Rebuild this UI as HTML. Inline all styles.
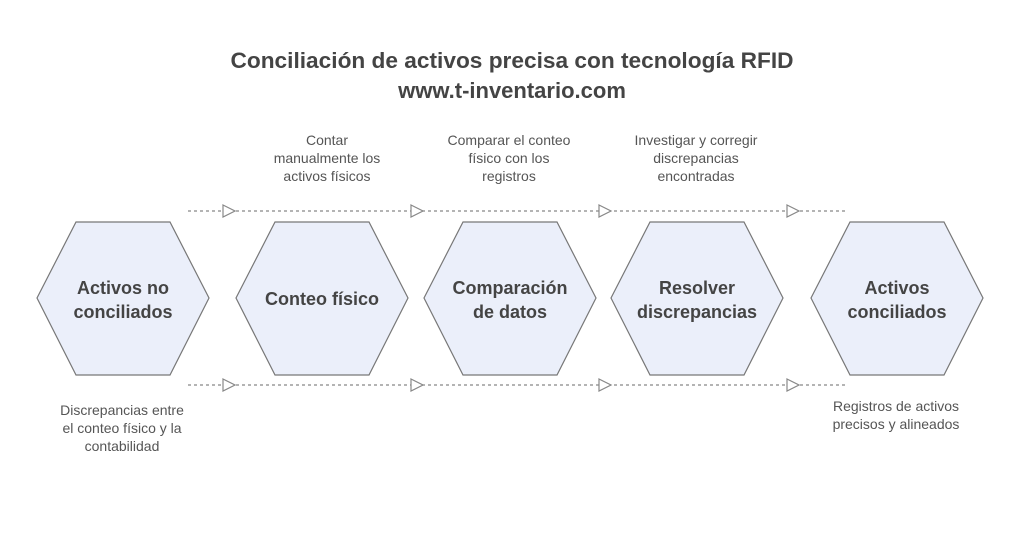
<!DOCTYPE html>
<html><head><meta charset="utf-8"><style>
body{margin:0;background:#fff;width:1024px;height:539px;overflow:hidden;font-family:"Liberation Sans",Arial,sans-serif}
</style></head><body>
<svg width="1024" height="539" viewBox="0 0 1024 539" xmlns="http://www.w3.org/2000/svg" font-family="Liberation Sans, Arial, sans-serif">
<text x="512" y="68" text-anchor="middle" font-size="22" font-weight="bold" fill="#444" textLength="563" lengthAdjust="spacingAndGlyphs">Conciliación de activos precisa con tecnología RFID</text>
<text x="512" y="98" text-anchor="middle" font-size="22" font-weight="bold" fill="#444">www.t-inventario.com</text>
<g stroke="#888" stroke-width="1.3" stroke-dasharray="3,3" fill="none">
<line x1="188" y1="211" x2="845" y2="211"/>
<line x1="188" y1="385" x2="845" y2="385"/>
</g>
<g fill="#fff" stroke="#888" stroke-width="1.2">
<polygon points="223,205 235,211 223,217"/><polygon points="411,205 423,211 411,217"/><polygon points="599,205 611,211 599,217"/><polygon points="787,205 799,211 787,217"/>
<polygon points="223,379 235,385 223,391"/><polygon points="411,379 423,385 411,391"/><polygon points="599,379 611,385 599,391"/><polygon points="787,379 799,385 787,391"/>
</g>
<g fill="#ebeffa" stroke="#777" stroke-width="1.2">
<polygon points="37,298 76,222 170,222 209,298 170,375 76,375"/>
<polygon points="236,298 275,222 369,222 408,298 369,375 275,375"/>
<polygon points="424,298 463,222 557,222 596,298 557,375 463,375"/>
<polygon points="611,298 650,222 744,222 783,298 744,375 650,375"/>
<polygon points="811,298 850,222 944,222 983,298 944,375 850,375"/>
</g>
<g font-size="18" font-weight="bold" fill="#444" text-anchor="middle">
<text x="123" y="294">Activos no</text><text x="123" y="318">conciliados</text>
<text x="322" y="305">Conteo físico</text>
<text x="510" y="294">Comparación</text><text x="510" y="318">de datos</text>
<text x="697" y="294">Resolver</text><text x="697" y="318">discrepancias</text>
<text x="897" y="294">Activos</text><text x="897" y="318">conciliados</text>
</g>
<g font-size="14" fill="#555" text-anchor="middle">
<text x="327" y="145">Contar</text><text x="327" y="163">manualmente los</text><text x="327" y="181">activos físicos</text>
<text x="509" y="145">Comparar el conteo</text><text x="509" y="163">físico con los</text><text x="509" y="181">registros</text>
<text x="696" y="145">Investigar y corregir</text><text x="696" y="163">discrepancias</text><text x="696" y="181">encontradas</text>
<text x="122" y="415">Discrepancias entre</text><text x="122" y="433">el conteo físico y la</text><text x="122" y="451">contabilidad</text>
<text x="896" y="411">Registros de activos</text><text x="896" y="429">precisos y alineados</text>
</g>
</svg>
</body></html>
